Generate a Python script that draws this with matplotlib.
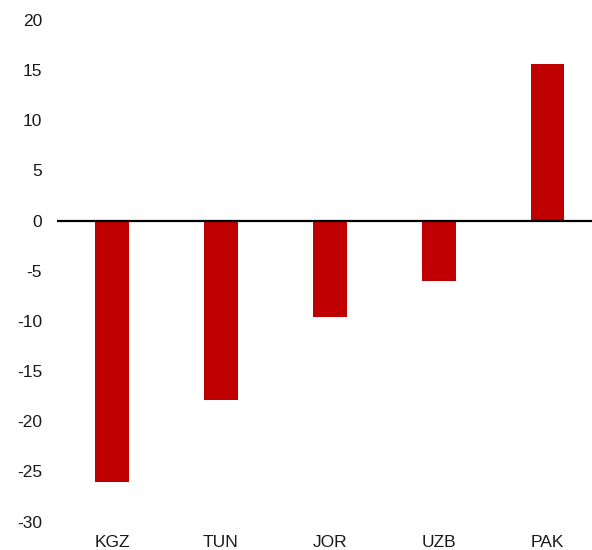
import matplotlib
matplotlib.use("Agg")
import matplotlib.pyplot as plt

categories = ["KGZ", "TUN", "JOR", "UZB", "PAK"]
values = [-26.1, -17.9, -9.6, -6.0, 15.6]
yticks = [20, 15, 10, 5, 0, -5, -10, -15, -20, -25, -30]

plt.rcParams['font.family'] = ['Liberation Sans', 'DejaVu Sans']

fig = plt.figure(figsize=(5.92, 5.5), dpi=100)
ax = fig.add_axes([57.5/592, 1-521.5/550, (602-57.5)/592, (521.5-20)/550])
x = list(range(len(categories)))
ax.bar(x, values, width=0.31, color="#C00000", zorder=2)
ax.axhline(0, color="black", linewidth=1.6, zorder=3)
ax.set_xlim(-0.5, len(categories)-0.5)
ax.set_ylim(-30, 20)
ax.set_yticks(yticks)
ax.set_yticklabels([str(t) for t in yticks])
ax.set_xticks(x)
ax.set_xticklabels(categories)
for s in ax.spines.values():
    s.set_visible(False)
ax.tick_params(axis='y', length=0, pad=11, labelsize=12.5, labelcolor="#1a1a1a")
ax.tick_params(axis='x', length=0, pad=10, labelsize=12.5, labelcolor="#1a1a1a")
fig.savefig("out.png", dpi=100)
